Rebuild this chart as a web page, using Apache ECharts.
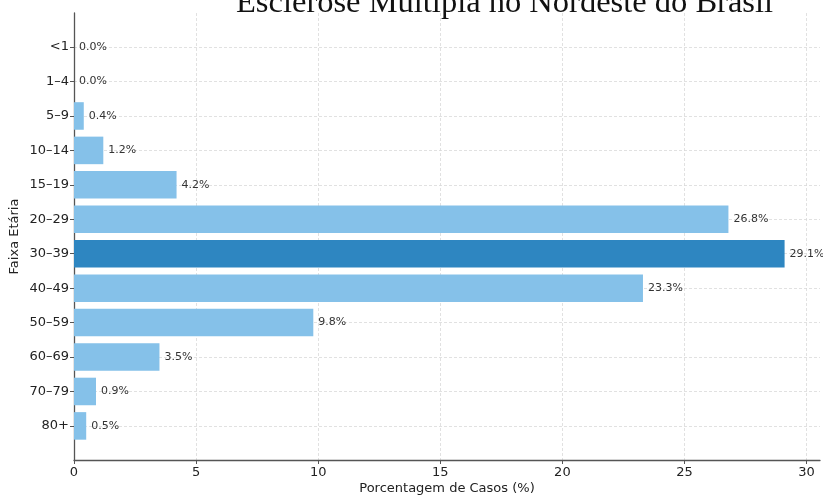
<!DOCTYPE html>
<html>
<head>
<meta charset="utf-8">
<script src="https://cdn.jsdelivr.net/npm/echarts@6/dist/echarts.min.js"></script>
<style>
  html, body { margin: 0; padding: 0; background: #fff; }
  #main { width: 823px; height: 497px; }
</style>
</head>
<body>
<div id="main"></div>
<script>
// faixas etárias e porcentagens
const categories = ['<1', '1–4', '5–9', '10–14', '15–19', '20–29', '30–39', '40–49', '50–59', '60–69', '70–79', '80+'];
const percents = [0.0, 0.0, 0.4, 1.2, 4.2, 26.8, 29.1, 23.3, 9.8, 3.5, 0.9, 0.5];
const xTicks = [0, 5, 10, 15, 20, 25, 30];
const highlight = '30–39';

const chart = echarts.init(document.getElementById('main'));
const font = 'DejaVu Sans';

const option = {
  animation: false,
  graphic: [{
    type: 'text',
    left: 236,
    top: -13,
    style: {
      text: 'Esclerose Múltipla no Nordeste do Brasil',
      font: '32.5px "Liberation Serif"',
      fill: '#111'
    }
  }],
  grid: { left: 74, right: 3, top: 13, bottom: 37, outerBoundsMode: 'none' },
  xAxis: {
    type: 'value',
    min: 0,
    max: 30.55,
    name: 'Porcentagem de Casos (%)',
    nameLocation: 'middle',
    nameGap: 22,
    nameMoveOverlap: false,
    nameTextStyle: { fontFamily: font, fontSize: 13, color: '#222' },
    axisLine: { show: true, onZero: false, lineStyle: { color: '#555', width: 1.3 } },
    axisTick: { show: true, length: 4, customValues: xTicks, lineStyle: { color: '#555' } },
    axisLabel: { customValues: xTicks, fontFamily: font, fontSize: 13, color: '#222', margin: 6 },
    splitLine: { show: true, lineStyle: { color: '#d9d9d9', type: [3, 2], width: 0.8 } }
  },
  yAxis: {
    type: 'value',
    inverse: true,
    min: -0.99,
    max: 11.99,
    name: 'Faixa Etária',
    nameLocation: 'middle',
    nameGap: 53,
    nameMoveOverlap: false,
    nameTextStyle: { fontFamily: font, fontSize: 13, color: '#222' },
    axisLine: { show: true, onZero: false, lineStyle: { color: '#555', width: 1.3 } },
    axisTick: { show: true, length: 4, customValues: categories.map((c, i) => i), lineStyle: { color: '#555' } },
    axisLabel: {
      customValues: categories.map((c, i) => i),
      formatter: v => categories[Math.round(v)],
      fontFamily: font, fontSize: 13, color: '#222', margin: 5
    },
    splitLine: { show: true, lineStyle: { color: '#d9d9d9', type: [3, 2], width: 0.8 } }
  },
  series: [{
    type: 'custom',
    encode: { x: 0, y: 1 },
    data: percents.map((v, i) => [v, i]),
    renderItem: function (params, api) {
      const v = api.value(0);
      const i = api.value(1);
      const p0 = api.coord([0, i]);
      const p1 = api.coord([v, i]);
      const h = api.size([0, 0.8])[1];
      const color = categories[i] === highlight ? '#2E86C1' : '#85C1E9';
      return {
        type: 'group',
        children: [{
          type: 'rect',
          shape: { x: p0[0], y: p0[1] - h / 2, width: p1[0] - p0[0], height: h },
          style: { fill: color }
        }, {
          type: 'text',
          x: p1[0] + 5,
          y: p1[1],
          style: {
            text: v.toFixed(1) + '%',
            font: '11px "DejaVu Sans"',
            fill: '#333',
            verticalAlign: 'middle',
            align: 'left'
          }
        }]
      };
    }
  }]
};

chart.setOption(option);
</script>
</body>
</html>
